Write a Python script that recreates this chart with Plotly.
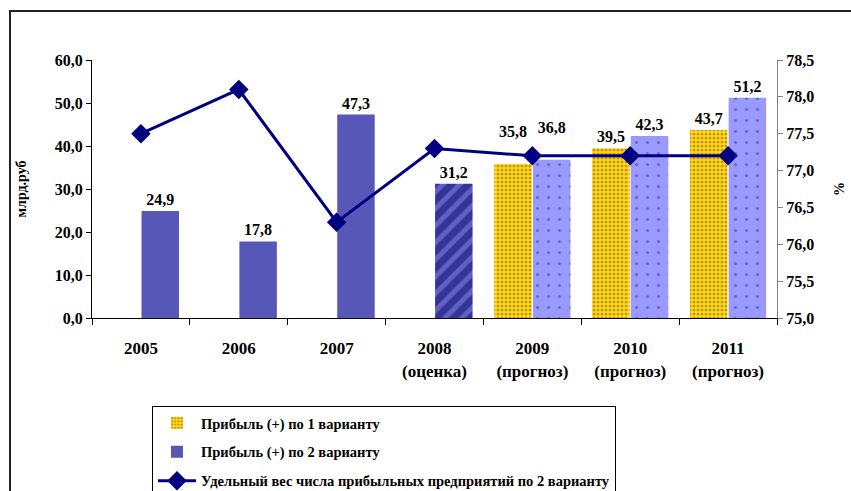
import plotly.graph_objects as go

categories = ["2005", "2006", "2007", "2008<br>(оценка)", "2009<br>(прогноз)",
              "2010<br>(прогноз)", "2011<br>(прогноз)"]
profit_v1 = [None, None, None, None, 35.8, 39.5, 43.7]
profit_v2 = [24.9, 17.8, 47.3, 31.2, 36.8, 42.3, 51.2]
share_v2 = [77.5, 78.1, 76.3, 77.3, 77.2, 77.2, 77.2]
# fill style of each "variant 2" bar: actual / estimate / forecast
v2_kind = ["fact", "fact", "fact", "estimate", "forecast", "forecast", "forecast"]

name_v1 = "Прибыль (+) по 1 варианту"
name_v2 = "Прибыль (+) по 2 варианту"
name_share = "Удельный вес числа прибыльных предприятий по 2 варианту"
y_title = "млрд.руб"
y2_title = "%"

FONT = "Liberation Serif, Times New Roman, serif"

W, H = 851, 491
L, R, T, B = 92, 777, 60, 318  # plot area in px


def px_x(p):
    return (p - L) / (R - L)


def px_y(p):
    return (B - p) / (B - T)


def fmt(v):
    return f"{v:.1f}".replace(".", ",")


# labels in the first forecast year sit higher (to clear the line)
lifted = [c.startswith("2009") for c in categories]


def labels(vals):
    out = []
    for v, up in zip(vals, lifted):
        if v is None:
            out.append("")
        else:
            out.append(fmt(v) + ("<br> " if up else ""))
    return out


def pick(vals, kind):
    return [v if k == kind else None for v, k in zip(vals, v2_kind)]


label_font = dict(family=FONT, size=16, color="black", weight="bold")

fig = go.Figure()

fig.add_trace(go.Bar(
    x=categories, y=profit_v1, name=name_v1, legendgroup="a", offsetgroup="1",
    marker=dict(color="#ffe800",
                pattern=dict(shape=".", fgcolor="#993366", size=4, solidity=0.5,
                             fillmode="overlay"),
                line=dict(width=0)),
    text=labels(profit_v1), textposition="outside", textfont=label_font,
    cliponaxis=False,
))

styles = {
    "fact": dict(color="#5757b8"),
    "estimate": dict(color="#333399",
                     pattern=dict(shape="/", fgcolor="#9090f0", size=12, solidity=0.4,
                                  fillmode="overlay")),
    "forecast": dict(color="#9999ff",
                     pattern=dict(shape=".", fgcolor="#33339a", size=11, solidity=0.06,
                                  fillmode="overlay")),
}

for kind in ["fact", "estimate", "forecast"]:
    vals = pick(profit_v2, kind)
    fig.add_trace(go.Bar(
        x=categories, y=vals, name=name_v2, legendgroup="b", offsetgroup="2",
        showlegend=(kind == "fact"),
        marker=dict(line=dict(width=0), **styles[kind]),
        text=labels(vals), textposition="outside", textfont=label_font,
        cliponaxis=False,
    ))

fig.add_trace(go.Scatter(
    x=categories, y=share_v2, name=name_share, legendgroup="c", yaxis="y2",
    mode="lines+markers",
    line=dict(color="#000080", width=3),
    marker=dict(symbol="diamond", size=15, color="#000080"),
    cliponaxis=False,
))

fig.update_layout(
    width=W, height=H,
    margin=dict(l=L, r=W - R, t=T, b=H - B, autoexpand=False),
    paper_bgcolor="white", plot_bgcolor="white",
    separators=", ",
    barmode="group", bargap=0.21, bargroupgap=0.03,
    font=dict(family=FONT, size=16, color="black"),
    showlegend=True,
    legend=dict(
        x=px_x(152), y=px_y(406), xanchor="left", yanchor="top",
        bgcolor="white", bordercolor="black", borderwidth=1,
        font=dict(family=FONT, size=14.5, color="black", weight="bold"),
        traceorder="grouped", tracegroupgap=7,
        itemwidth=38,
    ),
    xaxis=dict(
        type="category", tickson="boundaries",
        showline=True, linecolor="black", linewidth=1,
        ticks="outside", ticklen=6, tickcolor="black",
        ticklabelstandoff=15,
        tickfont=dict(family=FONT, size=17, color="black", weight="bold"),
        showgrid=False, zeroline=False,
    ),
    yaxis=dict(
        range=[0, 60], dtick=10, tickformat=".1f",
        showline=True, linecolor="black", linewidth=1,
        ticks="outside", ticklen=5, tickcolor="black",
        tickfont=dict(family=FONT, size=16, color="black", weight="bold"),
        showgrid=False, zeroline=False,
        title=dict(text=y_title, standoff=24,
                   font=dict(family=FONT, size=14, color="black", weight="bold")),
    ),
    yaxis2=dict(
        range=[75, 78.5], dtick=0.5, tickformat=".1f",
        overlaying="y", side="right",
        showline=True, linecolor="#808080", linewidth=1,
        ticks="outside", ticklen=5, tickcolor="#808080",
        tickfont=dict(family=FONT, size=16, color="black", weight="bold"),
        showgrid=False, zeroline=False,
        title=dict(text=y2_title, standoff=20,
                   font=dict(family=FONT, size=14, color="black", weight="bold")),
    ),
    shapes=[dict(
        type="rect", xref="paper", yref="paper",
        x0=px_x(10), x1=px_x(860), y0=px_y(500), y1=px_y(11),
        line=dict(color="#222222", width=2), fillcolor="rgba(0,0,0,0)", layer="below",
    )],
)

fig.write_html("out.html", config={"displayModeBar": False},
               post_script="document.body.style.margin='0';")
